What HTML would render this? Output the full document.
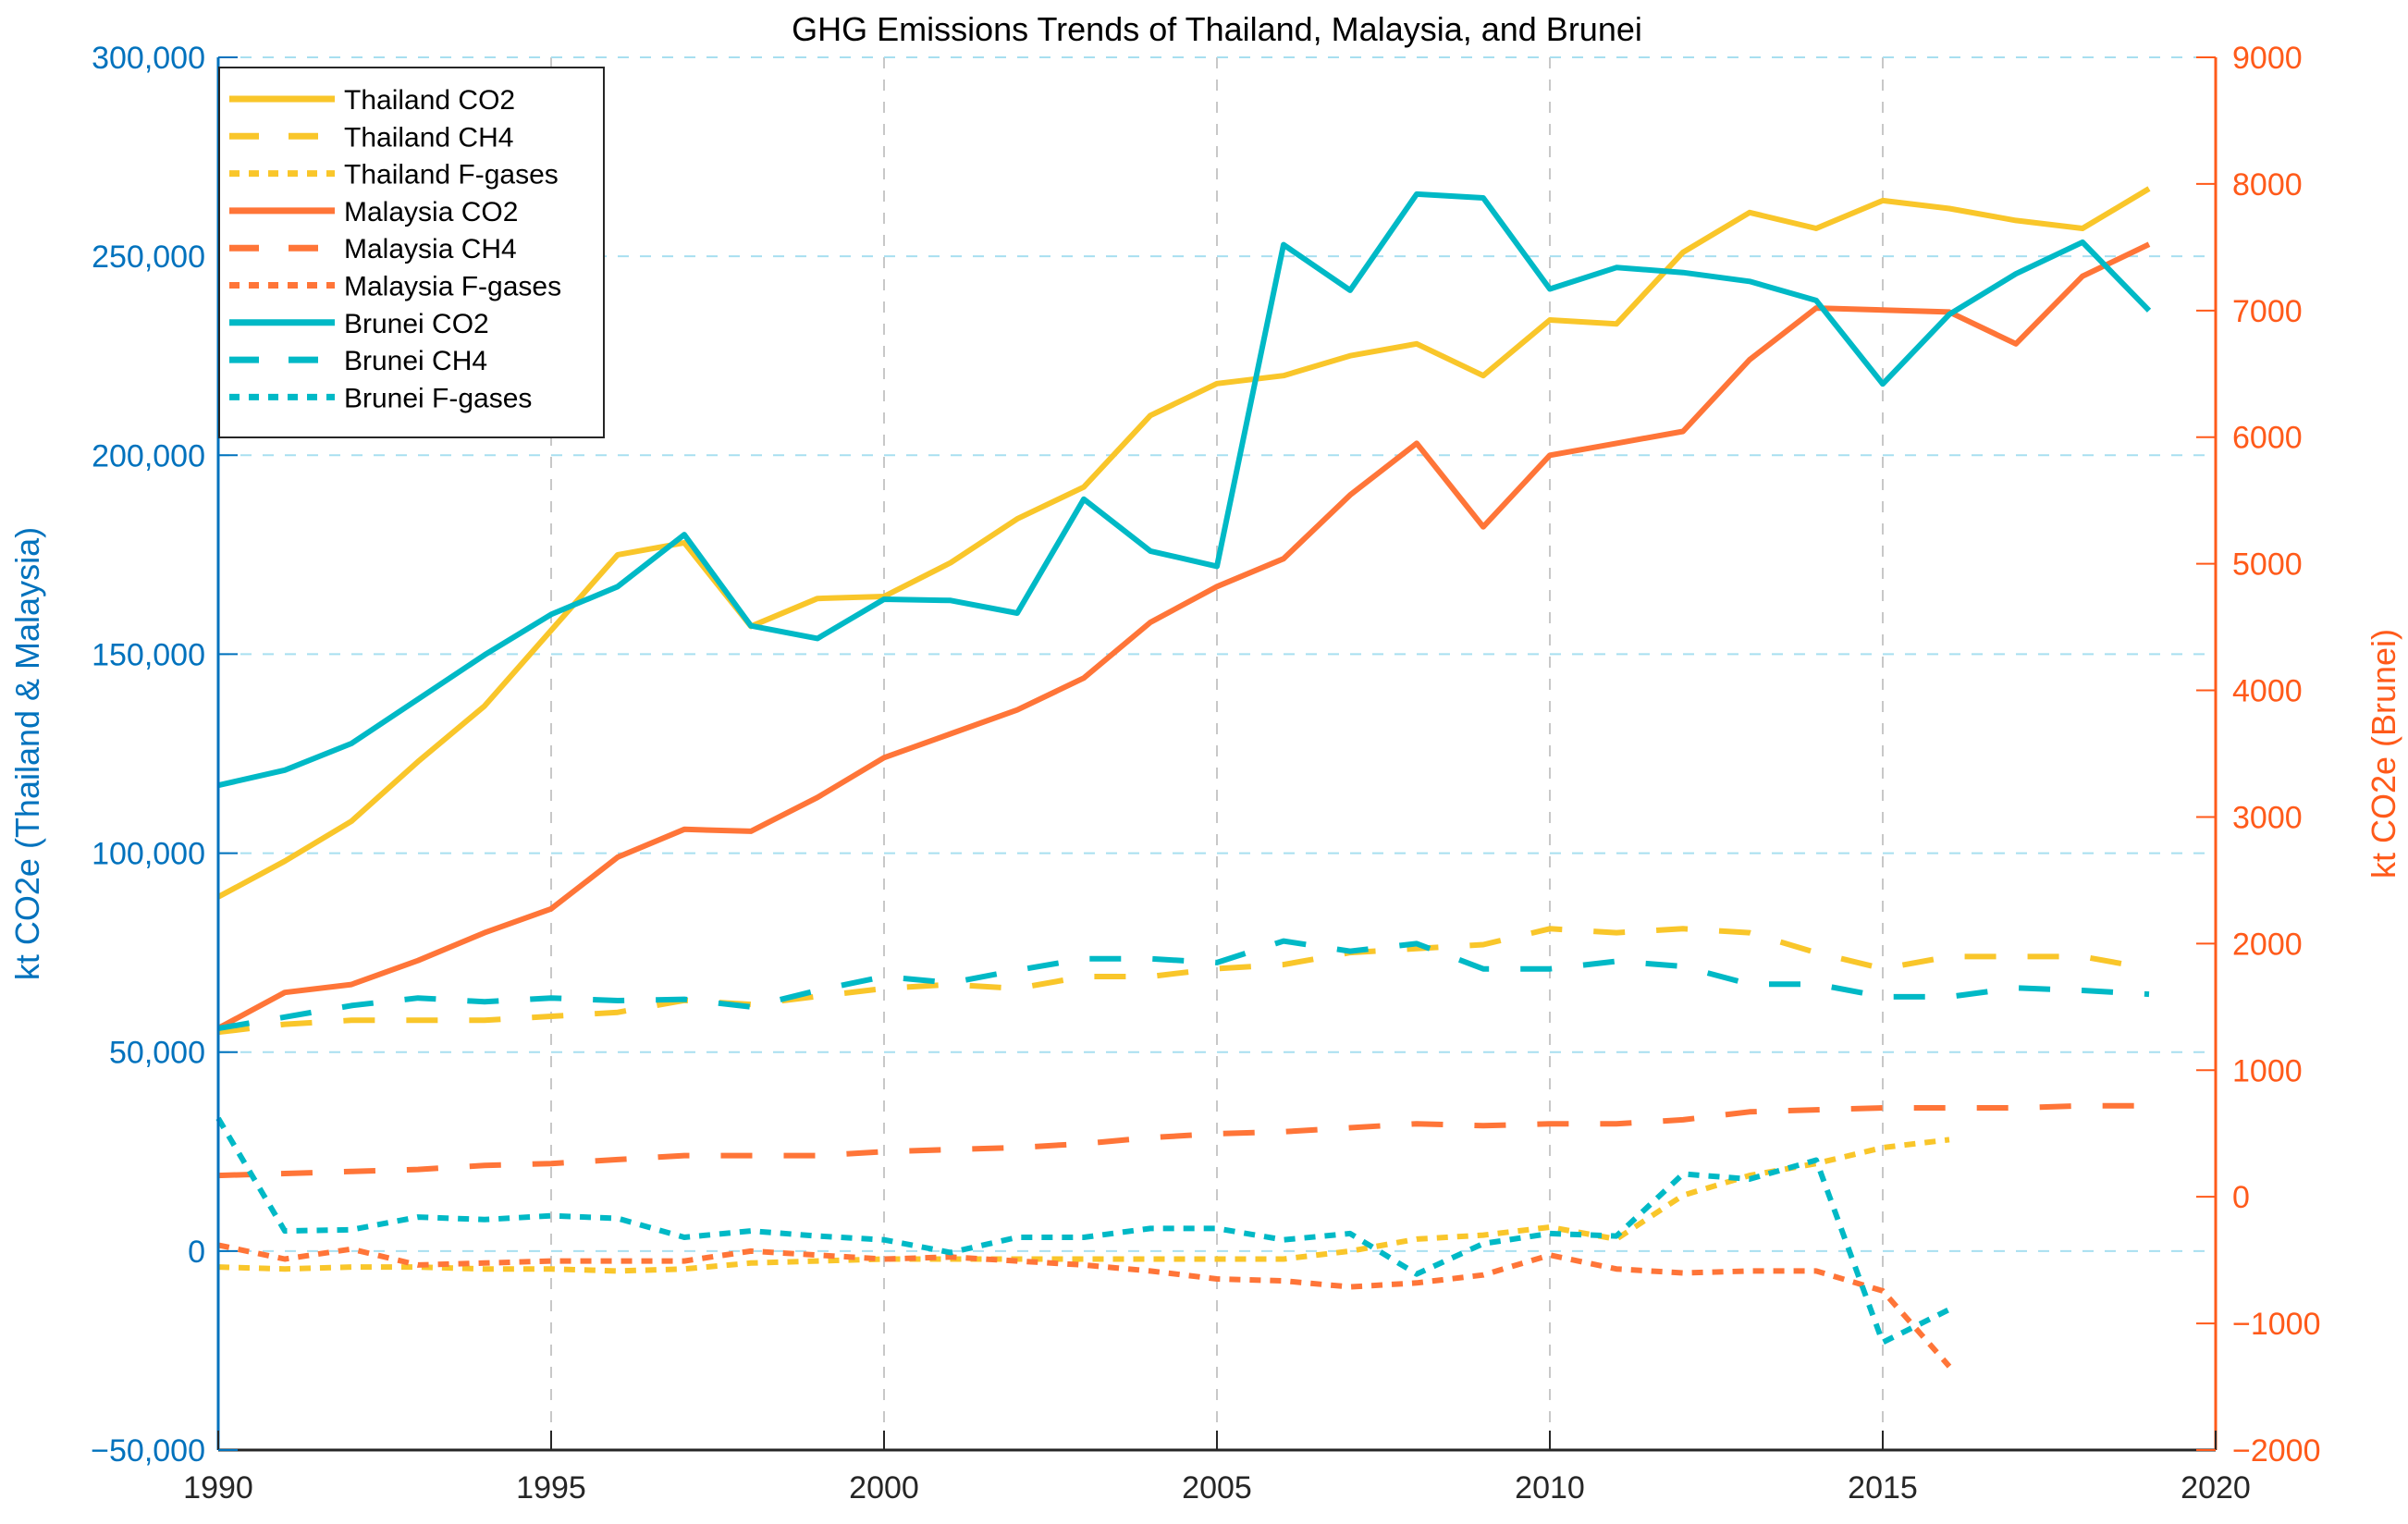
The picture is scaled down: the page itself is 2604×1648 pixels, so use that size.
<!DOCTYPE html>
<html><head><meta charset="utf-8">
<style>
html,body{margin:0;padding:0;background:#fff;}
svg{display:block;font-family:"Liberation Sans",Arial,sans-serif;}
</style></head>
<body>
<svg id="chart" width="2604" height="1648" viewBox="0 0 2604 1648" xmlns="http://www.w3.org/2000/svg">
<rect width="2604" height="1648" fill="#fff"/>
<g id="grid"></g>
<g id="series"></g>
<g id="axes"></g>
<g id="legend"></g>
</svg>
<script>
const years = [1990,1991,1992,1993,1994,1995,1996,1997,1998,1999,2000,2001,2002,2003,2004,2005,2006,2007,2008,2009,2010,2011,2012,2013,2014,2015,2016,2017,2018,2019];
const thCO2 = [89000,98000,108000,123000,137000,156000,175000,178000,157000,164000,164500,173000,184000,192000,210000,218000,220000,225000,228000,220000,234000,233000,251000,261000,257000,264000,262000,259000,257000,267000];
const thCH4 = [55000,57000,58000,58000,58000,59000,60000,63000,62000,64000,66000,67000,66000,69000,69000,71000,72000,75000,76000,77000,81000,80000,81000,80000,75000,71000,74000,74000,74000,71000];
const thF = [-4000,-4500,-4000,-4000,-4500,-4500,-5000,-4500,-3000,-2500,-2000,-2000,-2000,-2000,-2000,-2000,-2000,0,3000,4000,6000,3000,14000,19000,22000,26000,28000];
const myCO2 = [56000,65000,67000,73000,80000,86000,99000,106000,105500,114000,124000,130000,136000,144000,158000,167000,174000,190000,203000,182000,200000,203000,206000,224000,237000,236500,236000,228000,245000,253000];
const myCH4 = [19000,19500,20000,20500,21500,22000,23000,24000,24000,24000,25000,25500,26000,27000,28500,29500,30000,31000,32000,31500,32000,32000,33000,35000,35500,36000,36000,36000,36500,36500];
const myF = [1500,-2000,500,-3500,-3000,-2500,-2500,-2500,0,-1000,-2000,-1500,-2500,-3500,-5000,-7000,-7500,-9000,-8000,-6000,-1000,-4500,-5500,-5000,-5000,-10000,-29000];
const bnCO2 = [3250,3370,3580,3930,4280,4600,4820,5230,4510,4410,4720,4710,4610,5510,5100,4980,7520,7160,7920,7890,7170,7340,7300,7230,7080,6420,6970,7290,7540,7000];
const bnCH4 = [1330,1420,1510,1570,1540,1570,1550,1560,1500,1630,1740,1690,1790,1880,1880,1850,2020,1940,2000,1800,1800,1860,1820,1680,1680,1580,1580,1650,1630,1600];
const bnF = [620,-270,-260,-160,-180,-150,-170,-320,-270,-310,-340,-440,-320,-320,-250,-250,-340,-290,-610,-370,-290,-310,180,140,290,-1150,-890];
const xTicks = [1990,1995,2000,2005,2010,2015,2020];
const yLeftTicks = [-50000,0,50000,100000,150000,200000,250000,300000];
const yLeftLabels = ["\u221250,000","0","50,000","100,000","150,000","200,000","250,000","300,000"];
const yRightTicks = [-2000,-1000,0,1000,2000,3000,4000,5000,6000,7000,8000,9000];
const yRightLabels = ["\u22122000","\u22121000","0","1000","2000","3000","4000","5000","6000","7000","8000","9000"];

const L=236,R=2396,T=62,B=1568;
const NS="http://www.w3.org/2000/svg";
const xS=v=>L+(v-1990)/30*(R-L);
const yL=v=>B-(v+50000)/350000*(B-T);
const yR=v=>B-(v+2000)/11000*(B-T);
function mk(tag,attrs,parent,text){const e=document.createElementNS(NS,tag);for(const k in attrs)e.setAttribute(k,attrs[k]);if(text!==undefined)e.textContent=text;parent.appendChild(e);return e;}
const grid=document.getElementById('grid'),ser=document.getElementById('series'),ax=document.getElementById('axes'),leg=document.getElementById('legend');
const YEL="#f9c62a",ORG="#ff7538",TEA="#00b9c6",BLUE="#0072bd",RORG="#ff5a1a";

xTicks.forEach(t=>{if(t===1990||t===2020)return;
 const g=mk('line',{x1:xS(t),x2:xS(t),y1:T,y2:B,stroke:'#c8c8c8','stroke-width':2,'stroke-dasharray':'12 12'},grid);
 
 
});
yLeftTicks.forEach(t=>{if(t===-50000)return;
 const g=mk('line',{x1:L,x2:R,y1:yL(t),y2:yL(t),stroke:'#a8dff0','stroke-width':2,'stroke-dasharray':'12 12'},grid);
 
 
});

const seriesDefs=[
 {name:'thailand-co2',data:thCO2,c:YEL,d:'',ax:'L'},
 {name:'thailand-ch4',data:thCH4,c:YEL,d:'34 34',ax:'L'},
 {name:'thailand-fgases',data:thF,c:YEL,d:'12 10',ax:'L'},
 {name:'malaysia-co2',data:myCO2,c:ORG,d:'',ax:'L'},
 {name:'malaysia-ch4',data:myCH4,c:ORG,d:'34 34',ax:'L'},
 {name:'malaysia-fgases',data:myF,c:ORG,d:'12 10',ax:'L'},
 {name:'brunei-co2',data:bnCO2,c:TEA,d:'',ax:'R'},
 {name:'brunei-ch4',data:bnCH4,c:TEA,d:'34 34',ax:'R'},
 {name:'brunei-fgases',data:bnF,c:TEA,d:'12 10',ax:'R'}
];
seriesDefs.forEach(s=>{
 const fy=s.ax==='L'?yL:yR;
 const pts=s.data.map((v,i)=>xS(years[i]).toFixed(1)+','+fy(v).toFixed(1)).join(' ');
 const a={points:pts,fill:'none',stroke:s.c,'stroke-width':6,'stroke-linejoin':'round'};
 if(s.d)a['stroke-dasharray']=s.d;
 const p=mk('polyline',a,ser);
 
 
});

let e;
e=mk('line',{x1:L,x2:R,y1:B,y2:B,stroke:'#262626','stroke-width':3},ax);

e=mk('line',{x1:L,x2:L,y1:T,y2:B,stroke:BLUE,'stroke-width':3},ax);

e=mk('line',{x1:R,x2:R,y1:T,y2:B,stroke:RORG,'stroke-width':3},ax);

xTicks.forEach(t=>{
 const tk=mk('line',{x1:xS(t),x2:xS(t),y1:B,y2:B-21,stroke:'#262626','stroke-width':2},ax);
 
 
 const tx=mk('text',{x:xS(t),y:B+52,'text-anchor':'middle','font-size':34,fill:'#262626'},ax,String(t));
 
 
});
yLeftTicks.forEach((t,i)=>{
 const tk=mk('line',{x1:L,x2:L+21,y1:yL(t),y2:yL(t),stroke:BLUE,'stroke-width':2},ax);
 
 
 const tx=mk('text',{x:L-14,y:yL(t)+12,'text-anchor':'end','font-size':34,fill:BLUE},ax,yLeftLabels[i]);
 
 
});
yRightTicks.forEach((t,i)=>{
 const tk=mk('line',{x1:R,x2:R-21,y1:yR(t),y2:yR(t),stroke:RORG,'stroke-width':2},ax);
 
 
 const tx=mk('text',{x:R+18,y:yR(t)+12,'text-anchor':'start','font-size':34,fill:RORG},ax,yRightLabels[i]);
 
 
});
e=mk('text',{x:0,y:0,'text-anchor':'middle','font-size':36,fill:BLUE,transform:`translate(42,${(T+B)/2}) rotate(-90)`},ax,'kt CO2e (Thailand & Malaysia)');

e=mk('text',{x:0,y:0,'text-anchor':'middle','font-size':36,fill:RORG,transform:`translate(2590,${(T+B)/2}) rotate(-90)`},ax,'kt CO2e (Brunei)');

e=mk('text',{x:(L+R)/2,y:44,'text-anchor':'middle','font-size':36,fill:'#000'},ax,'GHG Emissions Trends of Thailand, Malaysia, and Brunei');


const legLabels=['Thailand CO2','Thailand CH4','Thailand F-gases','Malaysia CO2','Malaysia CH4','Malaysia F-gases','Brunei CO2','Brunei CH4','Brunei F-gases'];
e=mk('rect',{x:237,y:73,width:416,height:400,fill:'#fff',stroke:'#262626','stroke-width':2},leg);

seriesDefs.forEach((s,i)=>{
 const y=73+34+i*40.3;
 const a={x1:248,x2:362,y1:y,y2:y,stroke:s.c,'stroke-width':7};
 if(s.d)a['stroke-dasharray']=s.d==='34 34'?'32 32':'11 10';
 const ln=mk('line',a,leg);
 
 
 const tx=mk('text',{x:372,y:y+11,'font-size':30,fill:'#000'},leg,legLabels[i]);
 
 
});
</script>
</body></html>
